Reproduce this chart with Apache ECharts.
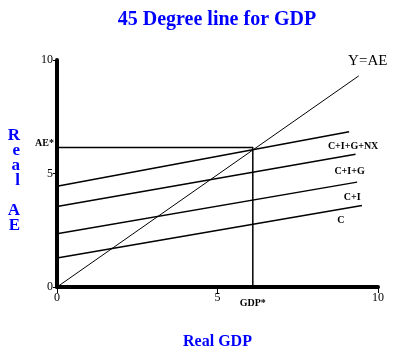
<!DOCTYPE html>
<html>
<head>
<meta charset="utf-8">
<script src="https://cdn.jsdelivr.net/npm/echarts@6/dist/echarts.min.js"></script>
<style>
  html, body { margin: 0; padding: 0; background: #fff; }
  #chart { width: 397px; height: 355px; }
</style>
</head>
<body>
<div id="chart"></div>
<script>
// endpoints of each line, [Real GDP, Real AE]
const yEqualsAE = [[0, 0], [9.4, 9.3]]
const cLine = [[0, 1.28], [9.5, 3.59]]
const ciLine = [[0, 2.35], [9.35, 4.62]]
const cigLine = [[0, 3.55], [9.3, 5.85]]
const cignxLine = [[0, 4.44], [9.1, 6.84]]
// equilibrium point
const gdpStar = 6.1
const aeStar = 6.15
const ticks = [0, 5, 10]

const serif = 'Liberation Serif'
const blue = '#0000ff'

const chart = echarts.init(document.getElementById('chart'))

function lineSeries(data, name, width, labelOpt) {
  const pts = data.map(p => ({ value: p }))
  if (labelOpt) {
    pts[pts.length - 1].label = Object.assign({
      show: true,
      formatter: name,
      color: '#000',
      fontFamily: serif,
      fontWeight: 'bold',
      fontSize: 10
    }, labelOpt)
  }
  return {
    name: name,
    type: 'line',
    data: pts,
    symbol: 'circle',
    symbolSize: 0,
    showSymbol: true,
    silent: true,
    animation: false,
    lineStyle: { color: '#000', width: width }
  }
}

chart.setOption({
  title: {
    text: '45 Degree line for GDP',
    top: 5,
    left: 212,
    textAlign: 'center',
    textStyle: { color: blue, fontFamily: serif, fontWeight: 'bold', fontSize: 20 }
  },
  grid: { left: 57, right: 19, top: 60, bottom: 61, containLabel: false },
  xAxis: {
    type: 'value',
    min: ticks[0],
    max: ticks[2],
    interval: 5,
    name: 'Real GDP',
    nameLocation: 'middle',
    nameGap: 47,
    nameTextStyle: { color: blue, fontFamily: serif, fontWeight: 'bold', fontSize: 16 },
    axisLine: { lineStyle: { color: '#000', width: 4 } },
    axisTick: { show: true, length: 6, lineStyle: { color: '#000', width: 1 } },
    axisLabel: { color: '#000', fontFamily: serif, fontSize: 12, margin: 5 },
    splitLine: { show: false }
  },
  yAxis: {
    type: 'value',
    min: ticks[0],
    max: ticks[2],
    interval: 5,
    name: '\nR\ne\na\nl\n\nA\nE',
    nameLocation: 'middle',
    nameRotate: 0,
    nameGap: 37,
    nameTextStyle: { color: blue, fontFamily: serif, fontWeight: 'bold', fontSize: 17, lineHeight: 15 },
    axisLine: { show: true, lineStyle: { color: '#000', width: 4 } },
    axisTick: { show: true, length: 4, lineStyle: { color: '#000', width: 1 } },
    axisLabel: { color: '#000', fontFamily: serif, fontSize: 12, margin: 4 },
    splitLine: { show: false }
  },
  series: [
    lineSeries(yEqualsAE, 'Y=AE', 1, { position: 'top', offset: [9, -2], fontWeight: 'normal', fontSize: 15 }),
    lineSeries(cignxLine, 'C+I+G+NX', 1.5, { position: 'bottom', offset: [4, 5] }),
    lineSeries(cigLine, 'C+I+G', 1.5, { position: 'bottom', offset: [-6, 7] }),
    lineSeries(ciLine, 'C+I', 1.5, { position: 'bottom', offset: [-5, 5] }),
    lineSeries(cLine, 'C', 1.5, { position: 'bottom', offset: [-21, 5] }),
    {
      type: 'line',
      symbol: 'circle',
      symbolSize: 0,
      showSymbol: true,
      silent: true,
      animation: false,
      lineStyle: { color: '#000', width: 1.5 },
      data: [
        { value: [0, aeStar], label: { show: true, formatter: 'AE*', position: 'left', offset: [2, -4], color: '#000', fontFamily: serif, fontWeight: 'bold', fontSize: 10 } },
        { value: [gdpStar, aeStar] },
        { value: [gdpStar, 0], label: { show: true, formatter: 'GDP*', position: 'bottom', offset: [0, 6], color: '#000', fontFamily: serif, fontWeight: 'bold', fontSize: 10 } }
      ]
    }
  ]
})
</script>
</body>
</html>
